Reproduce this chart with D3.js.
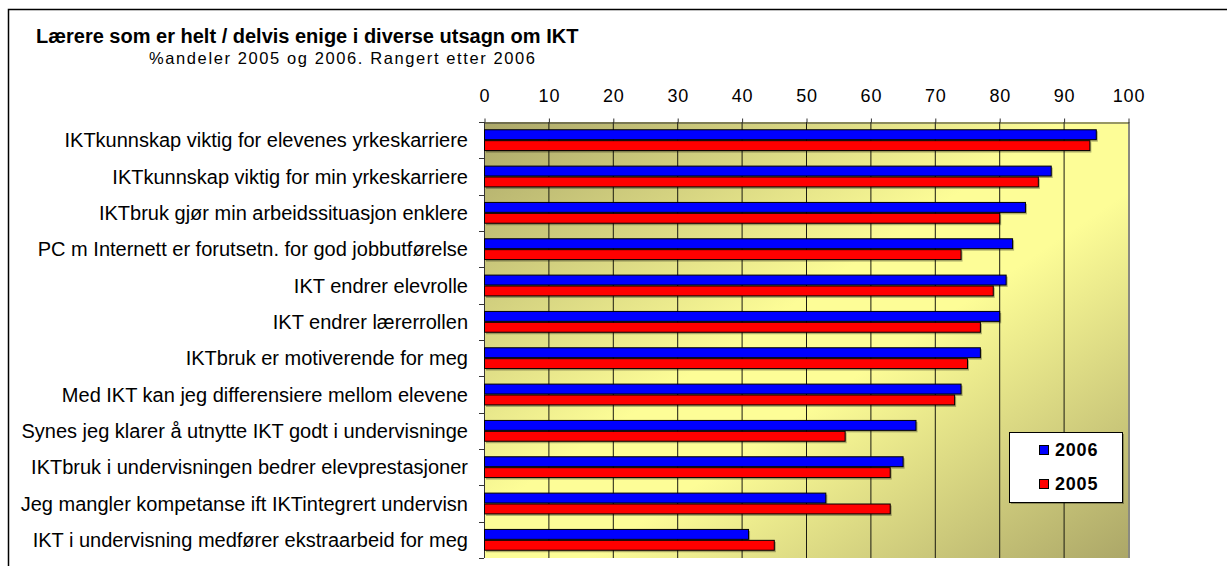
<!DOCTYPE html>
<html><head><meta charset="utf-8">
<script src="https://cdn.jsdelivr.net/npm/d3@7"></script>
<style>
body{margin:0;background:#fff}
svg text{font-family:"Liberation Sans",Arial,sans-serif;fill:#000}
</style>
</head><body>
<svg id="c" width="1227" height="566"></svg>
<script>
const categories = [
  "IKTkunnskap viktig for elevenes yrkeskarriere",
  "IKTkunnskap viktig for min yrkeskarriere",
  "IKTbruk gjør min arbeidssituasjon  enklere",
  "PC m Internett er forutsetn. for god jobbutførelse",
  "IKT endrer elevrolle",
  "IKT endrer lærerrollen",
  "IKTbruk er motiverende for meg",
  "Med IKT kan jeg differensiere mellom elevene",
  "Synes jeg klarer å utnytte IKT godt i undervisninge",
  "IKTbruk i undervisningen bedrer elevprestasjoner",
  "Jeg mangler kompetanse ift IKTintegrert undervisn",
  "IKT i undervisning medfører ekstraarbeid for meg"
];
const values2006 = [95, 88, 84, 82, 81, 80, 77, 74, 67, 65, 53, 41];
const values2005 = [94, 86, 80, 74, 79, 77, 75, 73, 56, 63, 63, 45];
const seriesNames = ["2006", "2005"];
const seriesColors = ["#0000ff", "#ff0000"];
const tickValues = [0, 10, 20, 30, 40, 50, 60, 70, 80, 90, 100];
const titleText = "Lærere som er helt / delvis enige i diverse utsagn om IKT";
const subtitleText = "%andeler 2005 og 2006. Rangert etter 2006";

const svg = d3.select("#c");
const W = 1227, H = 566;
const plot = {left: 484, right: 1128, top: 122, bottom: 558};

const x = d3.scaleLinear().domain([0, 100]).range([plot.left, plot.right]);
const y = d3.scaleBand().domain(categories).range([plot.top, plot.bottom])
  .paddingInner(0.4).paddingOuter(0.2);
const ys = d3.scaleBand().domain(seriesNames).range([0, y.bandwidth()]);

const rows = categories.map((c, i) => ({cat: c, vals: [values2006[i], values2005[i]]}));

// defs
const defs = svg.append("defs");
const grad = defs.append("linearGradient").attr("id", "bg")
  .attr("x1", 0).attr("y1", 0).attr("x2", 1).attr("y2", 1);
grad.append("stop").attr("offset", "0%").attr("stop-color", "#aba769");
grad.append("stop").attr("offset", "45%").attr("stop-color", "#fdfd97");
grad.append("stop").attr("offset", "58%").attr("stop-color", "#fdfd97");
grad.append("stop").attr("offset", "100%").attr("stop-color", "#aca768");

// outer frame
svg.append("path").attr("d", `M8.5,${H} V9.5 H${W}`)
  .attr("fill", "none").attr("stroke", "#000").attr("stroke-width", 1.5);

// titles
svg.append("text").attr("x", 36).attr("y", 43)
  .attr("font-size", 20).attr("font-weight", "bold")
  .text(titleText);
svg.append("text").attr("x", 149).attr("y", 64)
  .attr("font-size", 16.5).attr("letter-spacing", 1.6)
  .text(subtitleText);

// plot background
svg.append("rect").attr("x", plot.left).attr("y", plot.top)
  .attr("width", plot.right - plot.left).attr("height", plot.bottom - plot.top)
  .attr("fill", "url(#bg)");

// gridlines
svg.append("g").selectAll("line").data(tickValues.filter(t => t > 0 && t < 100)).join("line")
  .attr("x1", d => x(d) + 0.5).attr("x2", d => x(d) + 0.5)
  .attr("y1", plot.top).attr("y2", plot.bottom)
  .attr("stroke", "#1a1a10").attr("stroke-width", 1);
// right border
svg.append("line").attr("x1", x(100) + 1).attr("x2", x(100) + 1)
  .attr("y1", plot.top).attr("y2", plot.bottom)
  .attr("stroke", "#8a8a80").attr("stroke-width", 2);

// top axis
const xAxis = d3.axisTop(x).tickValues(tickValues).tickSize(4).tickPadding(17).tickSizeOuter(0);
const gx = svg.append("g").attr("transform", `translate(0.5,${plot.top + 0.5})`).call(xAxis);
gx.select(".domain").attr("stroke", "#333");
gx.selectAll(".tick line").attr("stroke", "#333");
gx.selectAll(".tick text").attr("font-size", 18).attr("letter-spacing", 0.8)
  .style("font-family", '"Liberation Sans",Arial,sans-serif').attr("fill", "#000");

// left axis with ticks at band boundaries
const boundaries = d3.range(categories.length + 1).map(i => plot.top + i * y.step());
const gy = svg.append("g");
gy.append("line").attr("x1", plot.left + 0.5).attr("x2", plot.left + 0.5)
  .attr("y1", plot.top).attr("y2", plot.bottom).attr("stroke", "#333");
gy.selectAll("line.t").data(boundaries).join("line").attr("class", "t")
  .attr("x1", plot.left - 5).attr("x2", plot.left)
  .attr("y1", d => Math.round(d) + 0.5).attr("y2", d => Math.round(d) + 0.5)
  .attr("stroke", "#333");

// category labels
svg.append("g").selectAll("text").data(categories).join("text")
  .attr("x", 468).attr("y", d => y(d) + y.bandwidth() / 2)
  .attr("dy", "0.36em").attr("text-anchor", "end")
  .attr("font-size", 20)
  .text(d => d);

// bars
const gBars = svg.append("g");
rows.forEach(r => {
  seriesNames.forEach((s, j) => {
    const by = y(r.cat) + ys(s);
    gBars.append("rect")
      .attr("x", x(0) + 2).attr("y", by + 2)
      .attr("width", x(r.vals[j]) - x(0)).attr("height", ys.bandwidth() - 0.5)
      .attr("fill", "#000").attr("opacity", 0.3);
    gBars.append("rect")
      .attr("x", x(0) + 0.5).attr("y", by + 0.5)
      .attr("width", x(r.vals[j]) - x(0)).attr("height", ys.bandwidth() - 1)
      .attr("fill", seriesColors[j]).attr("stroke", "#000").attr("stroke-width", 1);
  });
});

// legend
const lg = svg.append("g").attr("transform", "translate(1009,432)");
lg.append("rect").attr("x", 2).attr("y", 2).attr("width", 113).attr("height", 70)
  .attr("fill", "#000").attr("opacity", 0.3);
lg.append("rect").attr("x", 0.5).attr("y", 0.5).attr("width", 113).attr("height", 70)
  .attr("fill", "#fff").attr("stroke", "#000");
const legendY = d3.scalePoint().domain(seriesNames).range([18, 52]);
seriesNames.forEach((s, j) => {
  const cy = legendY(s);
  lg.append("rect").attr("x", 30.5).attr("y", cy - 4.5).attr("width", 9).attr("height", 9)
    .attr("fill", seriesColors[j]).attr("stroke", "#000");
  lg.append("text").attr("x", 46).attr("y", cy).attr("dy", "0.36em")
    .attr("font-size", 18).attr("font-weight", "bold").attr("letter-spacing", 0.8)
    .text(s);
});
</script>
</body></html>
